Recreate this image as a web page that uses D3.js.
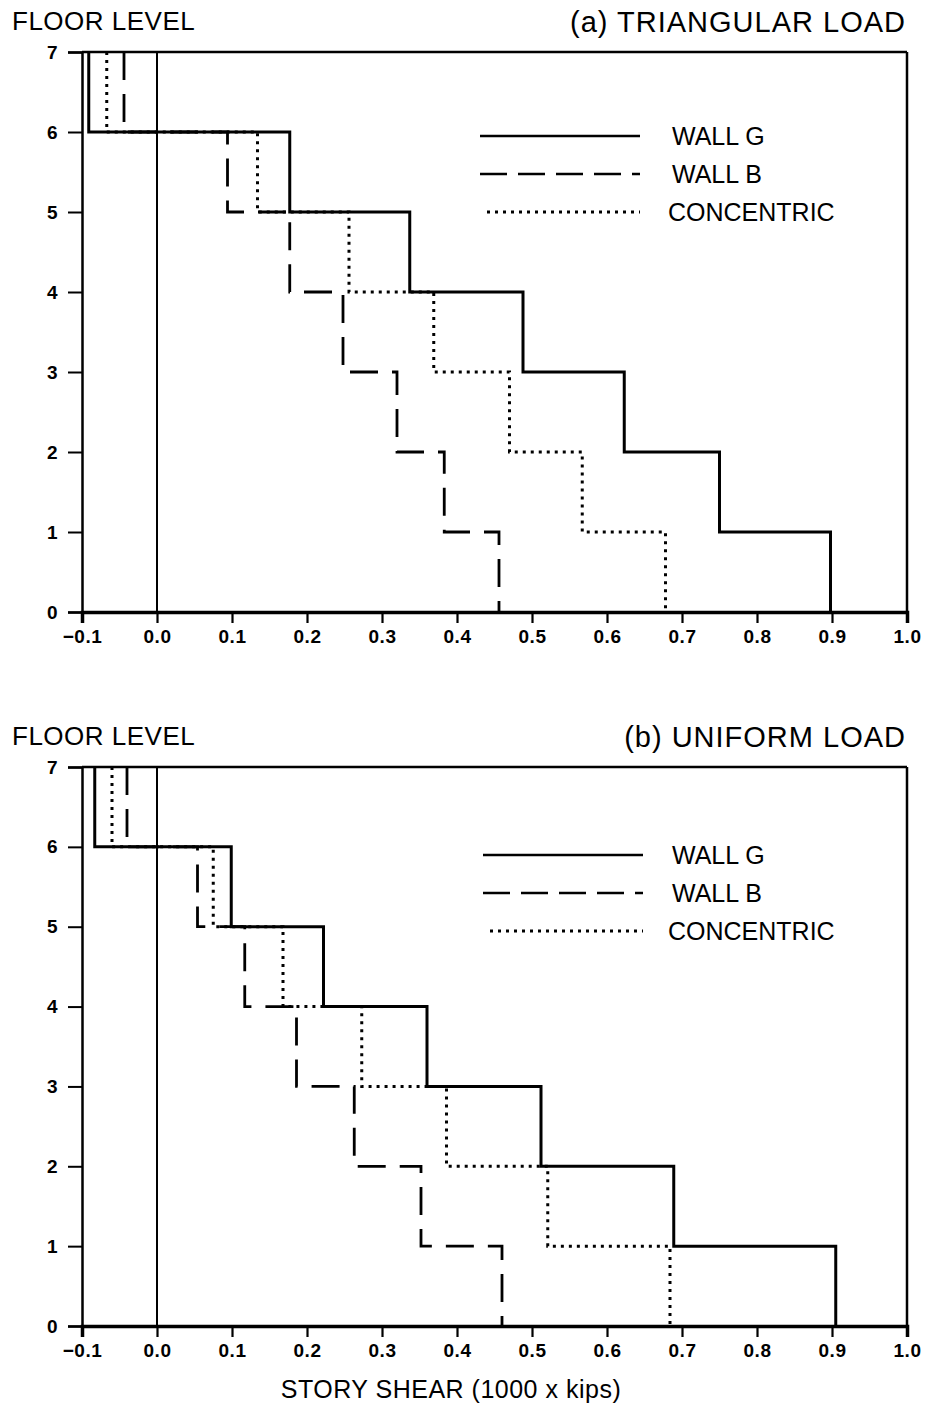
<!DOCTYPE html>
<html>
<head>
<meta charset="utf-8">
<script src="https://cdn.jsdelivr.net/npm/d3@7/dist/d3.min.js"></script>
<style>
  html, body { margin: 0; padding: 0; background: #fff; }
  svg { display: block; }
  text { font-family: "Liberation Sans", Arial, sans-serif; fill: #000; }
  .tick text { font-weight: bold; font-size: 19px; letter-spacing: 0.5px; }
</style>
</head>
<body>
<svg id="chart" width="926" height="1409"></svg>
<script>
// Story shear distribution per story (story i spans floor i-1 to floor i)
const stories = [1, 2, 3, 4, 5, 6, 7];
const floorTicks = [0, 1, 2, 3, 4, 5, 6, 7];
const shearTicks = [-0.1, 0.0, 0.1, 0.2, 0.3, 0.4, 0.5, 0.6, 0.7, 0.8, 0.9, 1.0];
const shearTickLabels = ["\u22120.1", "0.0", "0.1", "0.2", "0.3", "0.4", "0.5", "0.6", "0.7", "0.8", "0.9", "1.0"];
const seriesNames = ["WALL G", "WALL B", "CONCENTRIC"];

// (a) triangular load
const triWallG = [0.898, 0.750, 0.623, 0.488, 0.337, 0.177, -0.091];
const triWallB = [0.456, 0.383, 0.320, 0.248, 0.177, 0.094, -0.044];
const triConcentric = [0.678, 0.567, 0.470, 0.369, 0.256, 0.134, -0.067];

// (b) uniform load
const uniWallG = [0.905, 0.689, 0.512, 0.360, 0.222, 0.099, -0.083];
const uniWallB = [0.460, 0.352, 0.263, 0.186, 0.117, 0.054, -0.040];
const uniConcentric = [0.684, 0.521, 0.386, 0.273, 0.168, 0.075, -0.060];

const svg = d3.select("#chart");

const x = d3.scaleLinear().domain([-0.1, 1.0]).range([82, 907]);

const lineStyles = [
  { dash: null, width: 3 },
  { dash: "28,14", width: 2.8 },
  { dash: "3,5", width: 3 }
];

function stepPoints(values) {
  // walk from the top floor down to the base
  const pts = [];
  for (let i = stories.length - 1; i >= 0; i--) {
    const top = stories[i], bottom = stories[i] - 1;
    pts.push([values[i], top]);
    pts.push([values[i], bottom]);
  }
  return pts;
}

function panel(opts) {
  const y = d3.scaleLinear().domain([0, 7]).range([opts.bottom, opts.top]);
  const g = svg.append("g");

  // labels above the frame
  g.append("text")
    .attr("x", 12).attr("y", opts.top - 22)
    .style("font-size", "26px").attr("letter-spacing", 0.5)
    .text("FLOOR LEVEL");
  g.append("text")
    .attr("x", 906).attr("y", opts.top - 20)
    .attr("text-anchor", "end")
    .style("font-size", "29px").attr("letter-spacing", 1)
    .text(opts.title);

  // frame: top and right edges
  g.append("line")
    .attr("x1", x(-0.1)).attr("x2", x(1.0))
    .attr("y1", y(7)).attr("y2", y(7))
    .attr("stroke", "#000").attr("stroke-width", 2.5);
  g.append("line")
    .attr("x1", x(1.0)).attr("x2", x(1.0))
    .attr("y1", y(7)).attr("y2", y(0))
    .attr("stroke", "#000").attr("stroke-width", 2.5);

  // zero shear reference line
  g.append("line")
    .attr("x1", x(0)).attr("x2", x(0))
    .attr("y1", y(7)).attr("y2", y(0))
    .attr("stroke", "#000").attr("stroke-width", 2);

  // y axis
  const yAxis = g.append("g")
    .attr("transform", `translate(${x(-0.1)},0)`)
    .call(d3.axisLeft(y).tickValues(floorTicks).tickSize(14).tickPadding(10)
      .tickFormat(d3.format("d")));
  yAxis.select(".domain").attr("stroke-width", 2.5);
  yAxis.selectAll(".tick line").attr("stroke-width", 2);

  // x axis
  const xAxis = g.append("g")
    .attr("transform", `translate(0,${y(0)})`)
    .call(d3.axisBottom(x).tickValues(shearTicks).tickSize(11).tickPadding(7)
      .tickFormat((d, i) => shearTickLabels[i]));
  xAxis.select(".domain").attr("stroke-width", 3.5);
  xAxis.selectAll(".tick line").attr("stroke-width", 2.2);

  // step lines
  const line = d3.line().x(d => x(d[0])).y(d => y(d[1]));
  opts.series.forEach((vals, k) => {
    g.append("path")
      .attr("d", line(stepPoints(vals)))
      .attr("fill", "none")
      .attr("stroke", "#000")
      .attr("stroke-width", lineStyles[k].width)
      .attr("stroke-dasharray", lineStyles[k].dash);
  });

  // legend
  seriesNames.forEach((name, k) => {
    const ly = opts.legendTop + k * 38;
    g.append("line")
      .attr("x1", opts.legendX + (k === 2 ? 7 : 0)).attr("x2", opts.legendX + 160)
      .attr("y1", ly).attr("y2", ly)
      .attr("stroke", "#000").attr("stroke-width", k === 2 ? 2.8 : 2.5)
      .attr("stroke-dasharray", k === 1 ? "27,11" : lineStyles[k].dash);
    g.append("text")
      .attr("x", k === 2 ? 668 : 672).attr("y", ly + 9)
      .style("font-size", "25px")
      .text(name);
  });
}

panel({
  title: "(a) TRIANGULAR LOAD",
  top: 52, bottom: 612,
  series: [triWallG, triWallB, triConcentric],
  legendX: 480, legendTop: 136
});

panel({
  title: "(b) UNIFORM LOAD",
  top: 767, bottom: 1326,
  series: [uniWallG, uniWallB, uniConcentric],
  legendX: 483, legendTop: 855
});

svg.append("text")
  .attr("x", 451).attr("y", 1398)
  .attr("text-anchor", "middle")
  .style("font-size", "25px").attr("letter-spacing", 0.5)
  .text("STORY SHEAR (1000 x kips)");
</script>
</body>
</html>
